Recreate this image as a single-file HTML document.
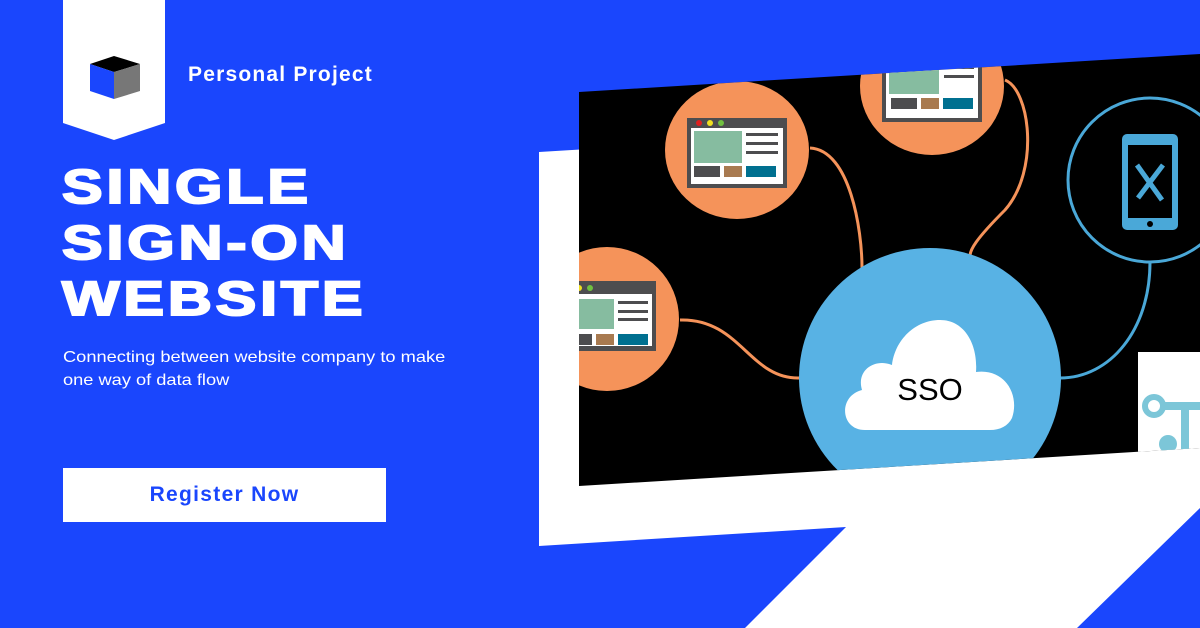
<!DOCTYPE html>
<html><head><meta charset="utf-8"><style>
html,body{margin:0;padding:0}
body{width:1200px;height:628px;overflow:hidden;background:#1a46fd;position:relative;font-family:"Liberation Sans",sans-serif}
.t{position:absolute;color:#fff;white-space:nowrap}
</style></head><body>
<svg width="1200" height="628" style="position:absolute;left:0;top:0">
<defs><clipPath id="bk"><polygon points="579,92 1200,54 1200,448 579,486"/></clipPath></defs>
<polygon points="539,152 1200,112 1200,508 1077,628 745,628 846,527 539,546" fill="#fff"/>
<polygon points="579,92 1200,54 1200,448 579,486" fill="#000"/>
<g clip-path="url(#bk)">
<g fill="none" stroke="#f5935a" stroke-width="3">
<path d="M810,148 C850,150 862,230 862,268"/>
<path d="M1005,80 C1030,90 1040,170 1005,210 C975,240 970,250 970,256"/>
<path d="M680,320 C740,318 750,380 800,378"/>
</g>
<path d="M1150,262 C1150,330 1110,378 1060,378" fill="none" stroke="#4aa8d8" stroke-width="3"/>
<ellipse cx="737" cy="150" rx="72" ry="69" fill="#f5935a"/>
<ellipse cx="932" cy="86" rx="72" ry="69" fill="#f5935a"/>
<ellipse cx="607" cy="319" rx="72" ry="72" fill="#f5935a"/>
<g>
<rect x="687" y="118" width="100" height="70" fill="#4d4d4f"/><rect x="691" y="128" width="92" height="56" fill="#fff"/>
<circle cx="699" cy="123" r="3" fill="#e02020"/><circle cx="710" cy="123" r="3" fill="#f0e020"/><circle cx="721" cy="123" r="3" fill="#70c040"/>
<rect x="694" y="131" width="48" height="32" fill="#86bca0"/><rect x="746" y="133" width="32" height="3" fill="#4d4d4f"/><rect x="746" y="142" width="32" height="3" fill="#4d4d4f"/><rect x="746" y="151" width="32" height="3" fill="#4d4d4f"/>
<rect x="694" y="166" width="26" height="11" fill="#4d4d4f"/><rect x="724" y="166" width="18" height="11" fill="#a87a50"/><rect x="746" y="166" width="30" height="11" fill="#007090"/>
</g>
<g>
<rect x="882" y="50" width="100" height="72" fill="#4d4d4f"/><rect x="886" y="60" width="92" height="58" fill="#fff"/>
<rect x="889" y="64" width="50" height="30" fill="#86bca0"/><rect x="944" y="66" width="30" height="3" fill="#4d4d4f"/><rect x="944" y="75" width="30" height="3" fill="#4d4d4f"/>
<rect x="891" y="98" width="26" height="11" fill="#4d4d4f"/><rect x="921" y="98" width="18" height="11" fill="#a87a50"/><rect x="943" y="98" width="30" height="11" fill="#007090"/>
</g>
<g>
<rect x="560" y="281" width="96" height="70" fill="#4d4d4f"/><rect x="564" y="294" width="88" height="52" fill="#fff"/>
<circle cx="579" cy="288" r="3" fill="#f0e020"/><circle cx="590" cy="288" r="3" fill="#70c040"/>
<rect x="566" y="299" width="48" height="30" fill="#86bca0"/><rect x="618" y="301" width="30" height="3" fill="#4d4d4f"/><rect x="618" y="310" width="30" height="3" fill="#4d4d4f"/><rect x="618" y="318" width="30" height="3" fill="#4d4d4f"/>
<rect x="570" y="334" width="22" height="11" fill="#4d4d4f"/><rect x="596" y="334" width="18" height="11" fill="#a87a50"/><rect x="618" y="334" width="30" height="11" fill="#007090"/>
</g>
<ellipse cx="930" cy="378" rx="131" ry="130" fill="#58b2e4"/>
<path d="M865,430 C840,430 838,396 862,390 C856,370 875,358 892,365 C895,340 915,320 940,320 C965,320 978,345 976,372 C1005,368 1020,395 1012,418 C1008,426 1000,430 990,430 Z" fill="#fff"/>
<text x="930" y="400" font-size="31" text-anchor="middle" font-family="Liberation Sans,sans-serif" fill="#000">SSO</text>
<circle cx="1150" cy="180" r="82" fill="none" stroke="#4aa8d8" stroke-width="3"/>
<rect x="1122" y="134" width="56" height="96" rx="5" fill="#4aa8d8"/><rect x="1128" y="145" width="44" height="73" fill="#000"/>
<path d="M1137,165 L1162,200 M1163,165 L1138,198" stroke="#4aa8d8" stroke-width="5"/>
<circle cx="1150" cy="224" r="3" fill="#000"/>
<rect x="1138" y="352" width="62" height="100" fill="#fff"/>
<circle cx="1154" cy="406" r="9" fill="none" stroke="#7cc6d8" stroke-width="6"/>
<path d="M1163,406 H1200 M1185,406 V450" stroke="#7cc6d8" stroke-width="8"/>
<circle cx="1168" cy="444" r="9" fill="#7cc6d8"/>
</g>
<polygon points="63,0 165,0 165,123 114,140 63,123" fill="#fff"/>
<polygon points="90,64 114,56 140,64 114,72" fill="#000"/>
<polygon points="90,64 114,72 114,99 90,91" fill="#1a46fd"/>
<polygon points="114,72 140,64 140,91 114,99" fill="#777"/>
</svg>
<div class="t" style="left:188px;top:63px;font-size:21px;font-weight:bold;letter-spacing:1.2px">Personal Project</div>
<div class="t" style="left:62px;top:160px;font-size:48px;font-weight:900;line-height:56px;letter-spacing:3px;transform:scaleX(1.27);transform-origin:left top;-webkit-text-stroke:2px #fff">SINGLE<br>SIGN-ON<br>WEBSITE</div>
<div class="t" style="left:63px;top:346px;font-size:16px;line-height:23px;transform:scaleX(1.14);transform-origin:left top">Connecting between website company to make<br>one way of data flow</div>
<div style="position:absolute;left:63px;top:468px;width:323px;height:54px;background:#fff;color:#1a46fd;font-weight:bold;font-size:21px;line-height:54px;text-align:center;letter-spacing:1.3px">Register Now</div>
</body></html>
